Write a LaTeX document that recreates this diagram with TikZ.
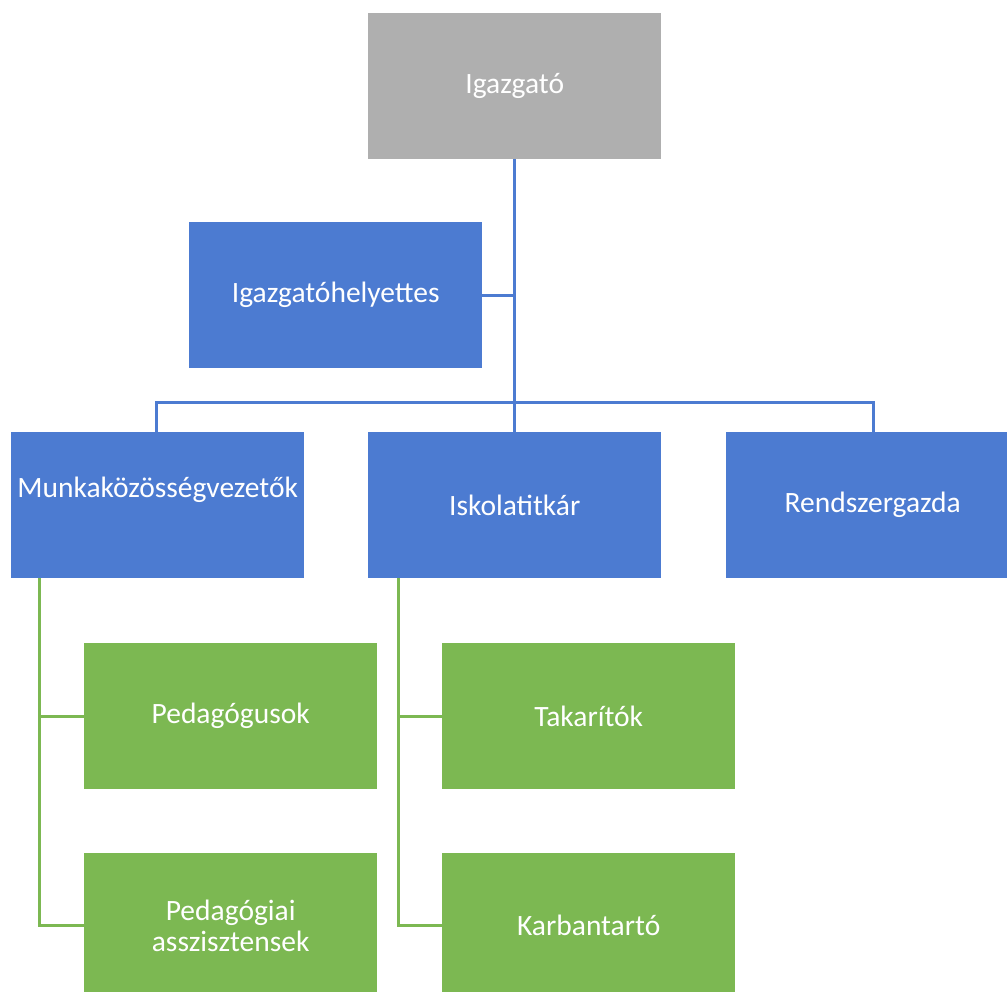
\documentclass[tikz,border=0pt]{standalone}
\usepackage{fontspec}
\setmainfont{Carlito}
\definecolor{boxgray}{HTML}{AFAFAF}
\definecolor{boxblue}{HTML}{4C7BD1}
\definecolor{boxgreen}{HTML}{7CB852}
\begin{document}
\begin{tikzpicture}[x=1pt,y=-1pt,
  box/.style={draw=none,minimum width=293pt,minimum height=146pt,inner sep=0pt,anchor=north west},
  bluebox/.style={box,fill=boxblue},
  greenbox/.style={box,fill=boxgreen},
  graybox/.style={box,fill=boxgray},
  label/.style={text=white,font=\fontsize{29.5}{31}\selectfont,align=center,inner sep=0pt},
  blueline/.style={draw=boxblue,line width=3pt},
  greenline/.style={draw=boxgreen,line width=3pt}]
\useasboundingbox (0,0) rectangle (1007,992);
\fill[white] (0,0) rectangle (1007,992);
\coordinate (busL) at (156,402);
\coordinate (busR) at (873,402);
\node[graybox] (igaz) at (368,13) {};
\node[bluebox] (helyt) at (189,222) {};
\node[bluebox] (munka) at (11,432) {};
\node[bluebox] (titk) at (368,432) {};
\node[bluebox,minimum width=281pt] (rendsz) at (726,432) {};
\node[greenbox] (ped) at (84,643) {};
\node[greenbox,minimum height=139pt] (asszt) at (84,853) {};
\node[greenbox] (takar) at (442,643) {};
\node[greenbox,minimum height=139pt] (karb) at (442,853) {};
% texts
\node[label] at (igaz.center) {Igazgató};
\node[label] at (helyt.center) {Igazgatóhelyettes};
\node[label] at ([yshift=15pt]munka.center) {Munkaközösségvezetők};
\node[label] at (titk.center) {Iskolatitkár};
\node[label] at ([xshift=6pt]rendsz.center) {Rendszergazda};
\node[label] at (ped.center) {Pedagógusok};
\node[label] at ([yshift=-3pt]asszt.center) {Pedagógiai\\asszisztensek};
\node[label] at ([yshift=-3pt]karb.center) {Karbantartó};
\node[label] at (takar.center) {Takarítók};
% connectors
\draw[blueline] (igaz.south) -- (titk.north);
\draw[blueline] (helyt.east) -- (helyt.east -| igaz.south);
\draw[blueline] (munka.north -| busL) -- (busL) -- (busR) -- (rendsz.north -| busR);
\draw[greenline] ([xshift=28pt]munka.south west) |- (ped.west);
\draw[greenline] ([xshift=28pt]munka.south west) |- ([yshift=-3pt]asszt.west);
\draw[greenline] ([xshift=30pt]titk.south west) |- (takar.west);
\draw[greenline] ([xshift=30pt]titk.south west) |- ([yshift=-3pt]karb.west);
\end{tikzpicture}
\end{document}
